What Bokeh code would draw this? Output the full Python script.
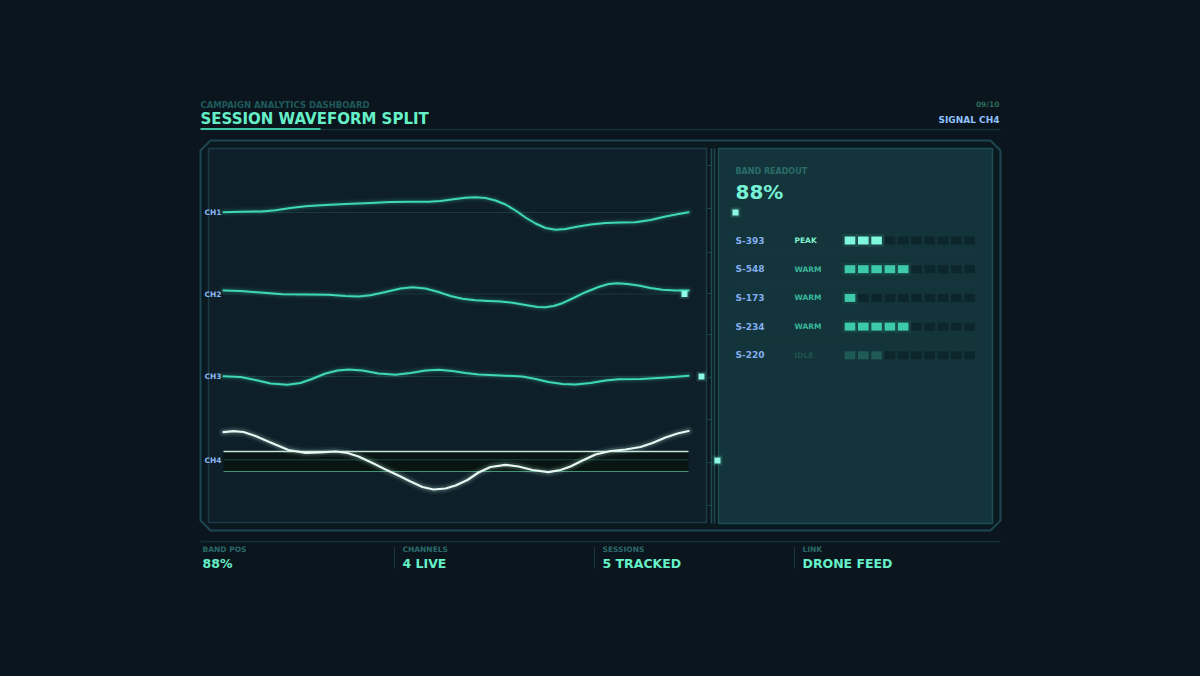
from bokeh.plotting import figure
from bokeh.models import Range1d
from bokeh.embed import file_html
from bokeh.resources import INLINE
from bokeh.core.properties import value

# ---------------- data ----------------
channels = ["CH1", "CH2", "CH3", "CH4"]

ch1_t = [0, 17, 38, 52, 67, 82, 102, 122, 147, 167, 187, 205, 217, 232, 242, 252, 262, 272, 282,
         292, 302, 312, 322, 332, 342, 352, 367, 382, 397, 412, 427, 442, 455, 465]
ch1_v = [0.3, 0.7, 1, 2.2, 4.5, 6.2, 7.5, 8.5, 9.5, 10.5, 10.7, 10.7, 11.5, 13.5, 14.8, 15.3, 14.5, 12, 8,
         2, -5, -11, -15.5, -17.3, -16.5, -14.5, -12, -10.5, -10, -9.7, -7.5, -4, -1.5, 0.3]

ch2_t = [0, 17, 37, 59, 82, 105, 122, 135, 147, 162, 177, 189, 202, 215, 227, 239, 252, 265, 277, 289,
         302, 314, 322, 330, 339, 350, 362, 375, 385, 394, 404, 415, 427, 439, 452, 465]
ch2_v = [3.5, 3, 1.5, -0.3, -0.5, -0.8, -2, -2.5, -1.3, 2, 5.5, 6.8, 5.5, 2, -2, -4.8, -6.3, -7, -7.5, -8.8,
         -11, -13, -13.2, -12, -9.2, -4, 1.8, 7, 10, 10.8, 10, 8.5, 6, 4.2, 3.5, 3.5]

ch3_t = [0, 17, 32, 47, 64, 77, 89, 102, 114, 125, 139, 155, 172, 187, 202, 215, 229, 242, 255, 277,
         299, 312, 325, 339, 352, 367, 382, 395, 417, 439, 453, 465]
ch3_v = [0.3, -0.5, -3.5, -7, -8.3, -6.5, -2.3, 3, 6, 7, 6, 3, 1.7, 3.5, 6, 6.7, 5.5, 3.5, 2, 1,
         0, -2.5, -5.5, -7.5, -8, -6.5, -4, -2.7, -2.5, -1.3, -0.3, 0.7]

ch4_t = [0, 10, 20, 32, 47, 65, 82, 97, 112, 124, 135, 149, 162, 175, 187, 199, 210, 222, 232, 244,
         255, 267, 282, 295, 309, 325, 337, 347, 359, 372, 387, 402, 417, 429, 442, 454, 465]
ch4_v = [28.3, 29.3, 28.5, 24.5, 18, 10.5, 7.7, 8.2, 9, 7.5, 4, -2.5, -9, -15, -21, -26.5, -29, -28, -25, -19.5,
         -12, -6.5, -4.3, -6, -9.5, -11.7, -9.5, -6, 0, 6, 9.5, 11, 13.5, 17.5, 23, 27, 29.5]

ch4_band_hi = 9
ch4_band_mid = 0.7
ch4_band_lo = -11

sessions = ["S-393", "S-548", "S-173", "S-234", "S-220"]
session_state = ["PEAK", "WARM", "WARM", "WARM", "IDLE"]
session_level = [3, 5, 1, 5, 3]
level_max = 10

band_pos = "88%"
footer_labels = ["BAND POS", "CHANNELS", "SESSIONS", "LINK"]
footer_values = ["88%", "4 LIVE", "5 TRACKED", "DRONE FEED"]

# ---------------- styling / layout ----------------
BG = "#0b151d"
FONT = "DejaVu Sans"
TEAL = "#3fd8b8"
MINT = "#66f0c8"
ICE = "#eaf8f3"
LABEL_BLUE = "#8ab6f2"

p = figure(width=1184, height=660, x_range=Range1d(0, 1184), y_range=Range1d(660, 0),
           output_backend="svg", toolbar_location=None, min_border=0,
           x_axis_type=None, y_axis_type=None,
           background_fill_color=BG, border_fill_color=BG)
p.outline_line_color = None
p.xgrid.visible = False
p.ygrid.visible = False


def txt(x, y, s, size, color, align="left", bold=True, alpha=1.0):
    p.text(x=[x], y=[y], text=[s], text_font=value(FONT), text_font_size=f"{size}px",
           text_color=color, text_align=align, text_baseline="middle",
           text_font_style="bold" if bold else "normal", text_alpha=alpha)


# header
txt(200, 104, "CAMPAIGN ANALYTICS DASHBOARD", 8.5, "#1f5a5a")
txt(200, 118, "SESSION WAVEFORM SPLIT", 15, MINT)
txt(999, 104, "09/10", 7.5, "#2a6a5a", align="right")
txt(999, 119, "SIGNAL CH4", 9, "#8fc2ff", align="right")
p.line([200, 1000], [129, 129], line_color="#16303a", line_width=1.5)
p.line([200, 320], [128.5, 128.5], line_color="#3cc4a4", line_width=2.2)

# outer frame
p.patch([210, 990, 1000, 1000, 990, 210, 200, 200], [140, 140, 150, 520, 530, 530, 520, 150],
        fill_color="#0a1820", line_color="#1e4650", line_width=2)

# left panel
p.quad(left=[208], right=[706], top=[148], bottom=[522], fill_color="#0f1f29",
       line_color="#1c3b45", line_width=1.5)
# right panel
p.quad(left=[718], right=[992], top=[148], bottom=[523], fill_color="#13343a",
       line_color="#1f4c52", line_width=1.5)

# divider with ticks
p.line([711, 711], [148, 523], line_color="#1f4c52", line_width=1.5)
p.line([714, 714], [148, 523], line_color="#1f4c52", line_width=1.5)
for ty in [165, 208, 252, 293, 334, 377, 419, 462, 505]:
    p.line([707, 711], [ty, ty], line_color="#1f4c52", line_width=1)

# waveforms
X0, X1 = 223, 688
XS = (X1 - X0) / 465.0
bases = [212, 293.5, 376, 460]
marker_x = [735, 684, 701, 717]
series = [(ch1_t, ch1_v), (ch2_t, ch2_v), (ch3_t, ch3_v), (ch4_t, ch4_v)]

for i, (name, (tt, vv)) in enumerate(zip(channels, series)):
    base = bases[i]
    xs = [X0 + t * XS for t in tt]
    ys = [base - v for v in vv]
    txt(204, base, name, 7.5, LABEL_BLUE)
    if i < 3:
        p.line([X0, X1], [base, base], line_color="#1b3740", line_width=1)
        for w, a in [(9, 0.05), (5, 0.12)]:
            p.line(xs, ys, line_color=TEAL, line_width=w, line_alpha=a, line_join="round", line_cap="round")
        p.line(xs, ys, line_color=TEAL, line_width=2, line_join="round", line_cap="round")
    else:
        hi, lo, mid = base - ch4_band_hi, base - ch4_band_lo, base - ch4_band_mid
        p.quad(left=[X0], right=[X1], top=[hi], bottom=[lo], fill_color="#07140f", fill_alpha=0.85,
               line_color=None)
        p.line([X0, X1], [mid, mid], line_color="#1f4a3c", line_width=1)
        p.line([X0, X1], [hi, hi], line_color="#c4e4d6", line_width=1.6)
        p.line([X0, X1], [lo, lo], line_color="#3f9474", line_width=1.2)
        for w, a in [(10, 0.06), (6, 0.14)]:
            p.line(xs, ys, line_color="#b8f0e0", line_width=w, line_alpha=a, line_join="round", line_cap="round")
        p.line(xs, ys, line_color=ICE, line_width=2.2, line_join="round", line_cap="round")
    # position marker
    p.scatter([marker_x[i]], [base], marker="square", size=10, fill_color="#6ff5dc", fill_alpha=0.15,
              line_color=None)
    p.scatter([marker_x[i]], [base], marker="square", size=6, fill_color="#8ffbe6", line_color=None)

# right panel readout
txt(735, 170.5, "BAND READOUT", 8, "#2a6c68")
txt(735, 191, band_pos, 20, "#78f2d6")

row_y0, row_dy = 240, 28.7
seg_x0, seg_dx, seg_w, seg_h = 849.5, 13.3, 10.6, 8
state_col = {"PEAK": "#7ff7dc", "WARM": "#3cc9ac", "IDLE": "#1f5a56"}
state_txt = {"PEAK": "#7ff2d0", "WARM": "#3ab89c", "IDLE": "#1e5452"}
for r, (sid, st, lv) in enumerate(zip(sessions, session_state, session_level)):
    y = row_y0 + r * row_dy
    txt(735, y, sid, 9, "#84aef0")
    txt(794, y, st, 7.5, state_txt[st])
    xs_on = [seg_x0 + k * seg_dx for k in range(lv)]
    xs_off = [seg_x0 + k * seg_dx for k in range(lv, level_max)]
    p.rect(x=xs_off, y=[y] * len(xs_off), width=seg_w, height=seg_h, fill_color="#0d262b",
           line_color=None)
    if st != "IDLE":
        p.rect(x=xs_on, y=[y] * len(xs_on), width=seg_w + 5, height=seg_h + 5, fill_color=state_col[st],
               fill_alpha=0.08, line_color=None)
    p.rect(x=xs_on, y=[y] * len(xs_on), width=seg_w, height=seg_h, fill_color=state_col[st],
           line_color=None)
    if r < len(sessions) - 1:
        p.line([735, 975], [y + 14, y + 14], line_color="#18393f", line_width=1, line_alpha=0.7)

# footer
p.line([200, 1000], [541, 541], line_color="#16303a", line_width=1.5)
for k, (lab, val) in enumerate(zip(footer_labels, footer_values)):
    fx = 202 + k * 200
    if k > 0:
        p.line([fx - 8, fx - 8], [546, 568], line_color="#1a3840", line_width=1.2)
    txt(fx, 549, lab, 7.5, "#2a6a6a")
    txt(fx, 562.5, val, 12.5, MINT)

html = file_html(p, INLINE)
html = html.replace("</head>", "<style>html,body{background:%s;}</style></head>" % BG)
open("out.html", "w").write(html)
